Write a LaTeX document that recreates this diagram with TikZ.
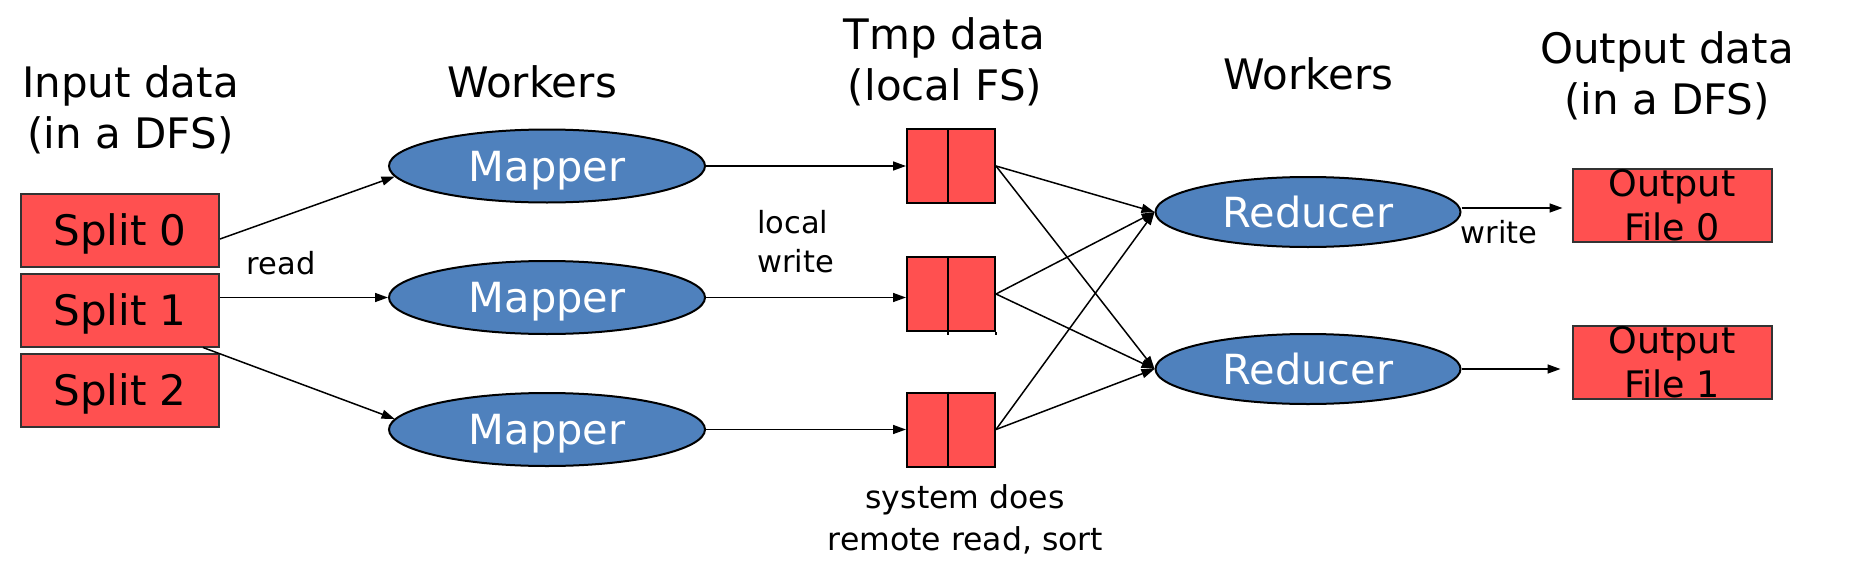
\documentclass[tikz,border=0pt]{standalone}
\usepackage{fontspec}
\setmainfont{DejaVu Sans}
\usetikzlibrary{arrows.meta,shapes.geometric,calc}
\definecolor{boxred}{HTML}{FF5050}
\definecolor{ellblue}{HTML}{4F81BD}
\definecolor{boxline}{HTML}{333333}
\begin{document}
\begin{tikzpicture}[x=1pt,y=-1pt,
  head/.style={font=\fontsize{42}{51}\selectfont, inner sep=0pt, anchor=base},
  lab/.style={font=\fontsize{30.5}{38}\selectfont, inner sep=0pt},
  labb/.style={font=\fontsize{31.5}{40}\selectfont, inner sep=0pt, anchor=base},
  splitbox/.style={rectangle, draw=boxline, line width=2pt, fill=boxred,
    minimum width=198pt, minimum height=73pt, inner sep=0pt,
    font=\fontsize{42}{51}\selectfont, text height=30.6pt, text depth=0pt},
  worker/.style={ellipse, draw=black, line width=2pt, fill=ellblue, text=white,
    inner sep=0pt, font=\fontsize{41.5}{50}\selectfont, text height=30.2pt, text depth=0pt},
  mapbox/.style={worker, minimum width=316pt, minimum height=73pt},
  redbox/.style={worker, minimum width=305pt, minimum height=70pt},
  tmpbox/.style={rectangle, draw=black, line width=2pt, fill=boxred,
    minimum width=88pt, minimum height=74pt, inner sep=0pt},
  outbox/.style={rectangle, draw=boxline, line width=2pt, fill=boxred,
    minimum width=199pt, minimum height=73pt, inner sep=0pt, align=center,
    font=\fontsize{36.5}{44}\selectfont},
  divider/.style={line width=2pt, draw=black},
  arr/.style={line width=1.5pt, draw=black, -{Triangle[length=13pt,width=9pt]}},
]
\useasboundingbox (0,0) rectangle (1860,586);

% headings
\node[head] (h1a) at (130.5,97.7) {Input data};
\node[head] (h1b) at (130.5,148.3) {(in a DFS)};
\node[head] (h2) at (532,97) {Workers};
\node[head] (h3a) at (944.5,49.3) {Tmp data};
\node[head] (h3b) at (945,100) {(local FS)};
\node[head] (h4) at (1308.5,89.3) {Workers};
\node[head] (h5a) at (1667,63.5) {Output data};
\node[head] (h5b) at (1667,114) {(in a DFS)};

% input splits
\node[splitbox] (split0) at (120,230) {Split 0};
\node[splitbox] (split1) at (120,310) {Split 1};
\node[splitbox] (split2) at (120,390) {Split 2};

% mappers
\node[mapbox] (map1) at (547,166) {Mapper};
\node[mapbox] (map2) at (547,297.5) {Mapper};
\node[mapbox] (map3) at (547,429.5) {Mapper};

% tmp data
\node[tmpbox] (tmp1) at (951,166) {};
\node[tmpbox] (tmp2) at (951,294) {};
\node[tmpbox] (tmp3) at (951,429.5) {};
\draw[divider] ([xshift=-3pt]tmp1.north) -- ([xshift=-3pt]tmp1.south);
\draw[divider] ([xshift=-3pt]tmp2.north) -- ([xshift=-3pt,yshift=-3pt]tmp2.south);
\draw[line width=1.2pt] (tmp2.south east) -- ([yshift=-3pt]tmp2.south east);
\draw[divider] ([xshift=-3pt]tmp3.north) -- ([xshift=-3pt]tmp3.south);

% reducers
\node[redbox] (red1) at (1308,212) {Reducer};
\node[redbox] (red2) at (1308,369) {Reducer};

% outputs
\node[outbox] (out0) at (1672,205.5) {Output\\File 0};
\node[outbox] (out1) at (1672,362) {Output\\File 1};

% labels
\node[lab, anchor=base] (lread) at (281,274) {read};
\node[lab, anchor=base west] (llocal) at (757,233.6) {local};
\node[lab, anchor=base west] (lwrite) at (757,272) {write};
\node[lab, anchor=base] (lwrite2) at (1499,243.3) {write};
\node[labb] (lsys1) at (965,508.3) {system does};
\node[labb] (lsys2) at (965.5,550.7) {remote read, sort};

% read arrows
\draw[arr] ([yshift=-9pt]split0.east) -- (map1.184);
\draw[arr] (split1.east |- map2.west) -- (map2.west);
\draw[arr] ([xshift=-17pt]split1.south east) -- (map3.176);

% local write arrows
\draw[arr] (map1.east) -- (tmp1.west);
\draw[arr] (map2.east) -- (map2.east -| tmp2.west);
\draw[arr] (map3.east) -- (tmp3.west);

% shuffle arrows
\draw[arr] (tmp1.east) -- (red1.west);
\draw[arr] (tmp1.east) -- (red2.west);
\draw[arr] (tmp2.east) -- (red1.west);
\draw[arr] (tmp2.east) -- (red2.west);
\draw[arr] (tmp3.east) -- (red1.west);
\draw[arr] (tmp3.east) -- (red2.west);

% write arrows
\coordinate (w0) at ([yshift=4pt]red1.east);
\draw[arr, shorten >=9pt] (w0) -- (w0 -| out0.west);
\draw[arr, shorten >=11pt] (red2.east) -- (red2.east -| out1.west);
\end{tikzpicture}
\end{document}
